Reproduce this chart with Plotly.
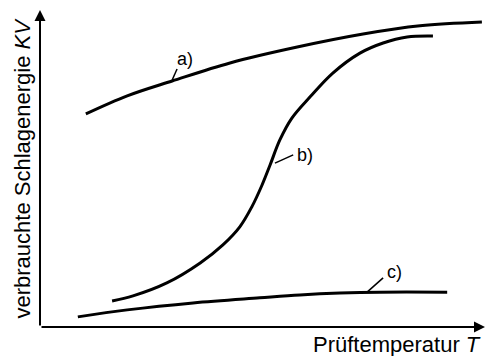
import plotly.graph_objects as go

# Curve a) - high energy level across the whole temperature range
a_T = [10.3, 19.6, 29.7, 42.7, 57.8, 72.6, 85.4, 99.3]
a_E = [67.2, 72.9, 77.6, 83.3, 88.3, 92.4, 95.0, 96.2]

# Curve b) - steep transition from low to high energy
b_T = [16.2, 20.9, 28.5, 36.0, 41.1, 44.9, 47.6, 49.9, 51.7, 53.9, 56.6, 60.7, 65.8, 71.9, 77.1, 82.5, 88.3]
b_E = [8.2, 9.8, 13.9, 20.2, 25.9, 31.6, 37.9, 44.8, 51.1, 59.0, 65.9, 72.6, 80.1, 86.4, 89.6, 91.5, 91.8]

# Curve c) - low energy level throughout
c_T = [8.5, 19.6, 34.4, 49.4, 58.4, 67.4, 76.4, 91.5]
c_E = [3.2, 5.4, 7.6, 9.2, 10.1, 10.7, 11.0, 11.0]

# Curve labels: (text, leader start T, leader start E, leader end T, leader end E, text T, text E)
labels = [
    ("a)", 29.7, 77.9, 30.8, 81.4, 30.3, 84.4),
    ("b)", 52.8, 51.7, 56.9, 54.3, 57.3, 54.3),
    ("c)", 73.5, 11.0, 77.1, 15.5, 77.5, 17.4),
]

x_title = "Prüftemperatur <i>T</i>"
y_title = "verbrauchte Schlagenergie <i>KV</i>"

W, H = 488, 356
fig = go.Figure()

for T, E in [(a_T, a_E), (b_T, b_E), (c_T, c_E)]:
    fig.add_trace(go.Scatter(
        x=T, y=E, mode="lines",
        line=dict(color="black", width=3, shape="spline", smoothing=1.0),
        hoverinfo="skip", showlegend=False,
    ))

# leader lines to the curve labels
for txt, t0, e0, t1, e1, tt, te in labels:
    fig.add_trace(go.Scatter(
        x=[t0, t1], y=[e0, e1], mode="lines",
        line=dict(color="black", width=1.5),
        hoverinfo="skip", showlegend=False,
    ))

annotations = []
for txt, t0, e0, t1, e1, tt, te in labels:
    annotations.append(dict(
        x=tt, y=te, xref="x", yref="y", text=txt, showarrow=False,
        xanchor="left", yanchor="middle",
        font=dict(family="Liberation Sans, Arial", size=18, color="black"),
    ))

# axes drawn as arrows from the origin
annotations.append(dict(
    x=100, y=0, ax=0, ay=0, xref="x", yref="y", axref="x", ayref="y",
    text="", showarrow=True, arrowhead=2, arrowsize=1.1, arrowwidth=2, arrowcolor="black",
))
annotations.append(dict(
    x=0, y=100, ax=0, ay=0, xref="x", yref="y", axref="x", ayref="y",
    text="", showarrow=True, arrowhead=2, arrowsize=1.1, arrowwidth=2, arrowcolor="black",
))

annotations.append(dict(
    x=483 / W, y=12 / H, xref="paper", yref="paper", text=x_title, showarrow=False,
    xanchor="right", yanchor="middle",
    font=dict(family="Liberation Sans, Arial", size=22, color="black"),
))
annotations.append(dict(
    x=22 / W, y=187.5 / H, xref="paper", yref="paper", text=y_title, showarrow=False,
    textangle=-90, xanchor="center", yanchor="middle",
    font=dict(family="Liberation Sans, Arial", size=22, color="black"),
))

fig.update_layout(
    width=W, height=H,
    margin=dict(l=0, r=0, t=0, b=0),
    paper_bgcolor="white", plot_bgcolor="white",
    xaxis=dict(range=[0, 100], domain=[40 / W, 485 / W], visible=False, fixedrange=True),
    yaxis=dict(range=[0, 100], domain=[29 / H, 346 / H], visible=False, fixedrange=True),
    annotations=annotations,
)

fig.write_html("out.html")
